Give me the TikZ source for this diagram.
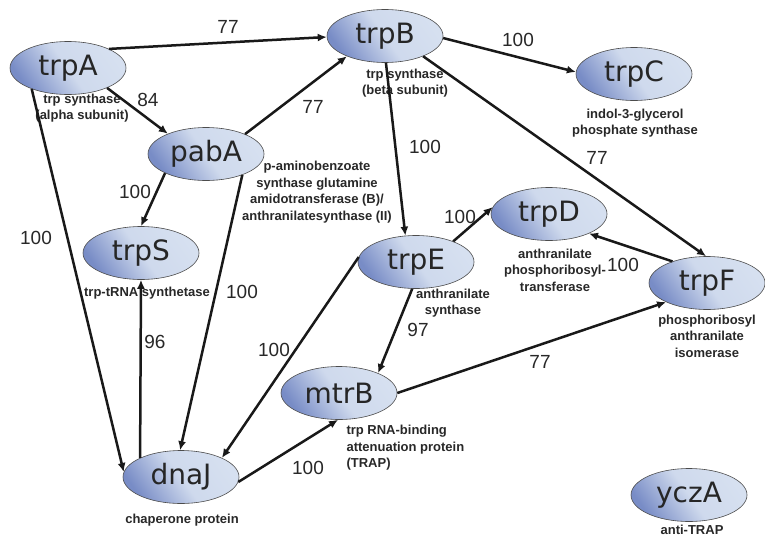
\documentclass[tikz,border=0pt]{standalone}
\usepackage{fontspec}
\setmainfont{Liberation Sans}
\newfontfamily\genefont{DejaVu Sans}
\usetikzlibrary{shapes.geometric,arrows.meta}
\definecolor{genedark}{RGB}{120,140,198}
\definecolor{genelight}{RGB}{214,224,240}
\definecolor{txtgray}{RGB}{40,40,40}
\begin{document}
\begin{tikzpicture}[x=1pt,y=-1pt,
  gene/.style={ellipse,draw=black!70,line width=0.6pt,minimum width=116pt,minimum height=53pt,inner sep=0pt,
    left color=genedark,right color=genelight,middle color=genelight!92!genedark,shading angle=125,
    font=\genefont\fontsize{28}{28}\selectfont,text=black!85},
  desc/.style={font=\bfseries\fontsize{13}{16.5}\selectfont,text=txtgray,align=center},
  num/.style={font=\fontsize{19}{19}\selectfont,text=txtgray},
  link/.style={line width=2.5pt,black!90,-{Latex[length=9pt,width=8pt]}}]
\useasboundingbox[fill=white] (0,0) rectangle (765,541);
% genes
\node[gene] (trpA) at (68,68) {trpA};
\node[gene] (trpB) at (385,36) {trpB};
\node[gene] (trpC) at (634,74) {trpC};
\node[gene] (pabA) at (206,154) {pabA};
\node[gene] (trpS) at (141,253) {trpS};
\node[gene] (trpD) at (549,214) {trpD};
\node[gene] (trpE) at (416,262) {trpE};
\node[gene] (trpF) at (707,283) {trpF};
\node[gene] (mtrB) at (339,393) {mtrB};
\node[gene] (dnaJ) at (181,477) {dnaJ};
\node[gene] (yczA) at (689,495) {yczA};
% what they code for
\node[desc] (trpAd) at (82,108) {trp synthase\\(alpha subunit)};
\node[desc] (trpBd) at (405,83) {trp synthase\\(beta subunit)};
\node[desc] (trpCd) at (635,123) {indol-3-glycerol\\phosphate synthase};
\node[desc] (pabAd) at (317,192) {p-aminobenzoate\\synthase glutamine\\amidotransferase (B)/\\anthranilatesynthase (II)};
\node[desc] (trpSd) at (147,293) {trp-tRNA synthetase};
\node[desc] (trpDd) at (555,270) {anthranilate\\phosphoribosyl-\\transferase};
\node[desc] (trpEd) at (453,303) {anthranilate\\synthase};
\node[desc] (trpFd) at (707,336) {phosphoribosyl\\anthranilate\\isomerase};
\node[desc,align=left,anchor=west] (mtrBd) at (343,448) {trp RNA-binding\\attenuation protein\\(TRAP)};
\node[desc] (dnaJd) at (182,520) {chaperone protein};
\node[desc] (yczAd) at (692,530) {anti-TRAP};
% links
\draw[link] (trpA.25) -- (trpB.181) node[num] (w1) at (228,27) {77};
\draw[link] (trpA.333) -- (pabA.152) node[num] (w2) at (148,100) {84};
\draw[link] (trpA.210) -- (dnaJ.175) node[num] (w3) at (36,238) {100};
\draw[link] (pabA.27) -- (trpB.208) node[num] (w4) at (313,107) {77};
\draw[link] (pabA.205) -- (trpS.north) node[num] (w5) at (135,192) {100};
\draw[link] (pabA.330) -- (dnaJ.92) node[num] (w6) at (242,292) {100};
\draw[link] (dnaJ.155) -- (trpS.south) node[num] (w7) at (155,342) {96};
\draw[link] (trpE.175) -- (dnaJ.25) node[num] (w8) at (274,350) {100};
\draw[link] (dnaJ.355) -- (mtrB.268) node[num] (w9) at (308,468) {100};
\draw[link] (trpB.358) -- (trpC.178) node[num] (w10) at (518,40) {100};
\draw[link] (trpB.272) -- (trpE.112) node[num] (w11) at (425,147) {100};
\draw[link] (trpB.332) -- (trpF.92) node[num] (w12) at (597,158) {77};
\draw[link] (trpE.29) -- (trpD.173) node[num] (w13) at (460,217) {100};
\draw[link] (trpE.262) -- (mtrB.27) node[num] (w14) at (418,330) {97};
\draw[link] (trpF.148) -- (trpD.334) node[num] (w15) at (623,265) {100};
\draw[link] (mtrB.east) -- (trpF.205) node[num] (w16) at (540,362) {77};
\end{tikzpicture}
\end{document}
